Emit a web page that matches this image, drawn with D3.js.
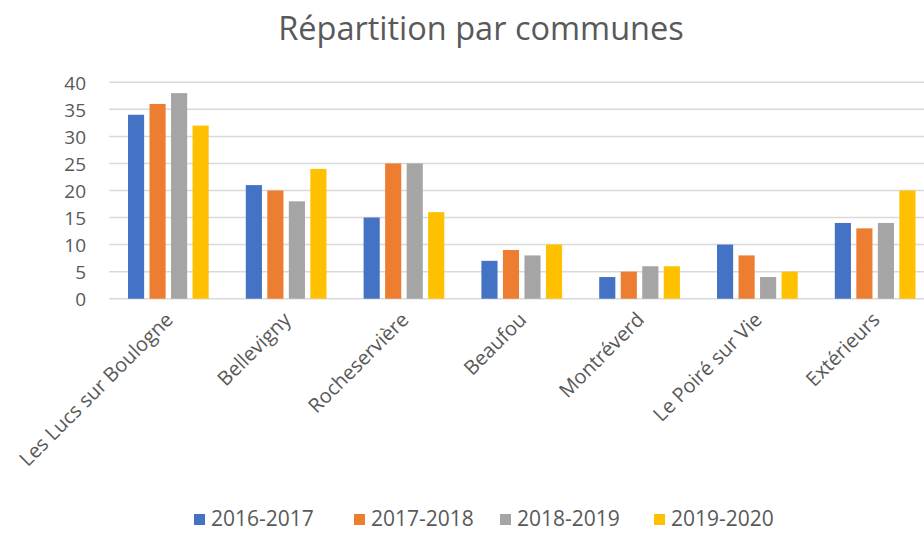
<!DOCTYPE html>
<html><head><meta charset="utf-8">
<script src="https://cdn.jsdelivr.net/npm/d3@7"></script>
<style>body{margin:0;background:#fff}svg{display:block}text{font-family:"Open Sans",sans-serif;fill:#595959}</style>
</head><body><svg id="c" width="924" height="533"></svg>
<script>
const categories = ["Les Lucs sur Boulogne","Bellevigny","Rocheservière","Beaufou","Montréverd","Le Poiré sur Vie","Extérieurs"];
const seriesNames = ["2016-2017","2017-2018","2018-2019","2019-2020"];
const s2016 = [34,21,15,7,4,10,14];
const s2017 = [36,20,25,9,5,8,13];
const s2018 = [38,18,25,8,6,4,14];
const s2019 = [32,24,16,10,6,5,20];
const yTicks = [0,5,10,15,20,25,30,35,40];
const colors = ["#4472C4","#ED7D31","#A5A5A5","#FFC000"];
const allSeries = [s2016,s2017,s2018,s2019];

const svg = d3.select("#c");
const x = d3.scaleBand().domain(categories).range([109.5, 934]).paddingInner(0.315).paddingOuter(0.157);
const x1 = d3.scaleBand().domain(seriesNames).range([0, x.bandwidth()]).paddingInner(0.25);
const y = d3.scaleLinear().domain([0,40]).range([298.7, 82.3]);

// gridlines
svg.append("g").selectAll("line").data(yTicks).join("line")
  .attr("x1",109).attr("x2",934).attr("y1",d=>y(d)).attr("y2",d=>y(d))
  .attr("stroke","#d9d9d9").attr("stroke-width",1.5);

// y labels
const yAxis = svg.append("g").attr("transform","translate(86,0)")
  .call(d3.axisLeft(y).tickValues(yTicks).tickSize(0).tickPadding(0));
yAxis.select(".domain").remove();
yAxis.selectAll("text").style("font-size","19px").style("font-family","'Open Sans',sans-serif").attr("fill","#595959").attr("dy","0.36em");

// bars
const g = svg.append("g");
categories.forEach((c,i)=>{
  allSeries.forEach((s,j)=>{
    g.append("rect").attr("x", x(c)+x1(seriesNames[j])).attr("width", x1.bandwidth())
      .attr("y", y(s[i])).attr("height", y(0)-y(s[i])).attr("fill", colors[j]);
  });
});

// x labels
svg.append("g").selectAll("text").data(categories).join("text")
  .attr("transform", d=>`translate(${x(d)+x.bandwidth()/2+1},316) rotate(-45)`)
  .attr("text-anchor","end").attr("dy","0.35em").style("font-size","20px").text(d=>d);

// title
svg.append("text").attr("x",481).attr("y",40).attr("text-anchor","middle")
  .style("font-size","32.5px").text("Répartition par communes");

// legend
const legX = [194, 354, 500, 654];
const lg = svg.append("g");
seriesNames.forEach((n,j)=>{
  lg.append("rect").attr("x",legX[j]).attr("y",514).attr("width",11).attr("height",11).attr("fill",colors[j]);
  lg.append("text").attr("x",legX[j]+17).attr("y",518).attr("dy","0.36em").style("font-size","21px").text(n);
});
</script></body></html>
